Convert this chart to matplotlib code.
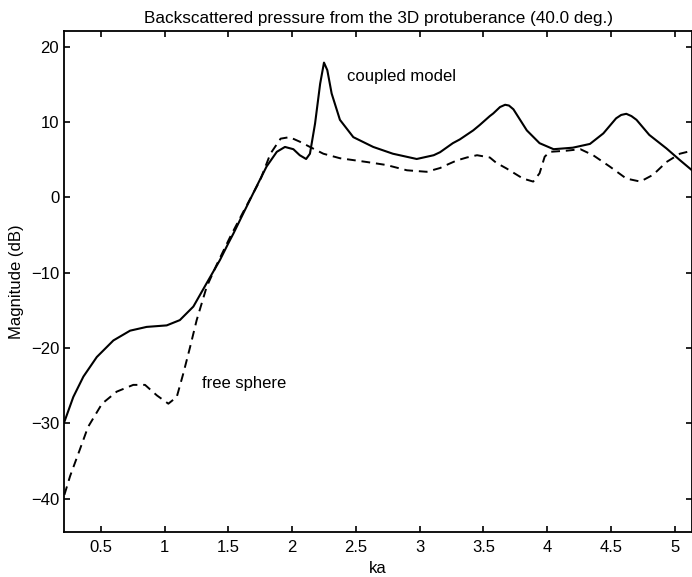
# coding: utf8

import numpy as np
import matplotlib
matplotlib.use("Agg")
import matplotlib.pyplot as plt

##############
# DATA
##############

# coupled model (solid)
ka_coupled = [0.215, 0.285, 0.364, 0.469, 0.599, 0.73, 0.86, 1.017, 1.12, 1.226,
              1.33, 1.435, 1.50, 1.54, 1.618, 1.72, 1.80, 1.88, 1.944, 2.01,
              2.06, 2.11, 2.14, 2.18, 2.22, 2.25, 2.276, 2.31, 2.375, 2.48,
              2.636, 2.79, 2.977, 3.11, 3.16, 3.26, 3.315, 3.42, 3.47, 3.55,
              3.577, 3.63, 3.67, 3.70, 3.735, 3.84, 3.94, 4.05, 4.20, 4.335, 4.44,
              4.54, 4.58, 4.62, 4.66, 4.70, 4.80, 4.935, 5.04, 5.135]
mag_coupled = [-29.8, -26.5, -23.8, -21.2, -19.0, -17.7, -17.2, -17.0, -16.3, -14.5,
               -11.4, -8.3, -6.1, -4.8, -2.1, 1.4, 4.1, 6.05, 6.7, 6.4,
               5.6, 5.1, 5.8, 9.8, 15.1, 17.9, 16.9, 13.8, 10.3, 8.0,
               6.7, 5.8, 5.1, 5.6, 6.0, 7.2, 7.7, 8.9, 9.6, 10.8,
               11.15, 12.0, 12.3, 12.2, 11.7, 8.9, 7.2, 6.4, 6.6, 7.1, 8.5,
               10.5, 10.95, 11.1, 10.8, 10.3, 8.3, 6.5, 4.95, 3.6]

# free sphere (dashed)
ka_free = [0.215, 0.26, 0.338, 0.40, 0.51, 0.625, 0.755, 0.847, 0.94, 1.03,
           1.096, 1.147, 1.20, 1.252, 1.33, 1.41, 1.513, 1.618, 1.75, 1.83,
           1.91, 1.98, 2.06, 2.14, 2.245, 2.375, 2.585, 2.74, 2.90, 3.055,
           3.16, 3.21, 3.29, 3.37, 3.45, 3.55, 3.60, 3.68, 3.81, 3.89,
           3.94, 3.98, 4.02, 4.15, 4.26, 4.36, 4.49, 4.62, 4.73, 4.83,
           4.935, 5.04, 5.135]
mag_free = [-39.5, -37.0, -33.4, -30.5, -27.4, -25.8, -24.9, -24.9, -26.3, -27.4,
            -26.5, -23.4, -19.9, -16.3, -11.9, -8.9, -5.3, -1.9, 2.3, 5.8,
            7.8, 8.0, 7.4, 6.7, 5.8, 5.2, 4.7, 4.3, 3.6, 3.4,
            3.9, 4.3, 4.9, 5.3, 5.6, 5.3, 4.6, 3.85, 2.5, 2.1,
            3.2, 5.4, 6.05, 6.2, 6.4, 5.6, 4.1, 2.5, 2.1, 3.0,
            4.7, 5.8, 6.2]

xticks = [0.5, 1, 1.5, 2, 2.5, 3, 3.5, 4, 4.5, 5]
xtick_labels = ["0.5", "1", "1.5", "2", "2.5", "3", "3.5", "4", "4.5", "5"]
yticks = [-40, -30, -20, -10, 0, 10, 20]

##########
# PLOT
##########
plt.rcParams['font.family'] = ['Liberation Sans', 'DejaVu Sans']

fig = plt.figure(figsize=(6.92, 5.77), dpi=100)
ax = fig.add_axes([0.0925, 0.0785, 0.9075, 0.8678])

ax.plot(ka_coupled, mag_coupled, 'k-', linewidth=1.5)
ax.plot(ka_free, mag_free, 'k', linestyle=(0, (4.5, 3.0)), linewidth=1.4)

ax.text(2.43, 16.0, "coupled model", fontsize=12, va='center', ha='left')
ax.text(1.29, -24.7, "free sphere", fontsize=12, va='center', ha='left')

ax.set_xlim(0.212, 5.135)
ax.set_ylim(-44.4, 22.1)
ax.set_xticks(xticks)
ax.set_xticklabels(xtick_labels)
ax.set_yticks(yticks)
ax.tick_params(direction='in', top=True, right=True, length=4, width=1.2,
               labelsize=12, pad=3.5)
ax.tick_params(axis='x', pad=6)
for s in ax.spines.values():
    s.set_linewidth(1.3)

ax.set_title("Backscattered pressure from the 3D protuberance (40.0 deg.)",
             fontsize=12.3, pad=6)
ax.set_xlabel("ka", fontsize=12)
ax.xaxis.set_label_coords(0.5, -0.058)
ax.set_ylabel("Magnitude (dB)", fontsize=12)
ax.yaxis.set_label_coords(-0.064, 0.5)

fig.savefig("out.png", dpi=100)
